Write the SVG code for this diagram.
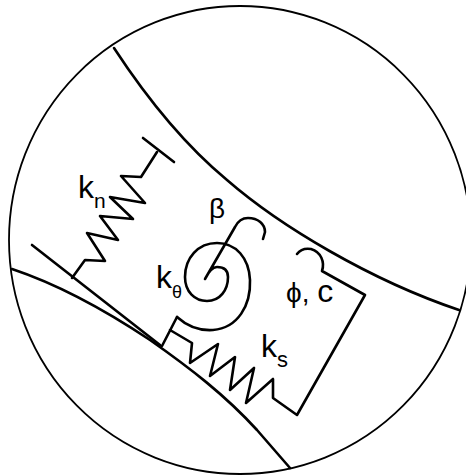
<svg xmlns="http://www.w3.org/2000/svg" width="466" height="476" viewBox="0 0 466 476">
<style>
.t{fill:none;stroke:#000;stroke-width:1.8;stroke-linecap:round;stroke-linejoin:round}
.h{fill:none;stroke:#000;stroke-width:2.6;stroke-linecap:round;stroke-linejoin:round}
text{font-family:"Liberation Sans",Arial,sans-serif;fill:#000}
</style>
<rect width="466" height="476" fill="#fff"/>
<g id="boundary">
<ellipse class="t" cx="240" cy="240" rx="231" ry="234"/>
<path class="h" d="M114 48C150 103 186 146 227 180C280 226 370 280 459 310"/>
<path class="h" d="M12 269C60 285 105 310 150 340C190 368 225 395 257 430L290 468"/>
</g>
<g id="connectors">
<path class="h" d="M32 245L160 345"/>
<path class="h" d="M143 138L174 162"/>
<path class="h" d="M157 152L141 177L121 176L145 203L110 197L133 219L100 216L118 240L87 233L105 261L85 260L72 278"/>
<path class="h" d="M162 346L177 317M170 330L192 343L190 363L218 344L210 376L235 357L230 390L254 368L246 403L273 379L273 398L297 415L365 295L322 271C325 262 321 252 311 249C305 248 300 250 297 254"/>
<path class="h" d="M177 317C187 326 198 331 213 330C238 328 251 305 250 280C249 258 236 243 217 243C198 243 185 258 185 277C185 292 195 301 207 301C220 301 228 290 228 277C228 270 224 267 217 267C212 267 208 273 205 279L235 227C238 221 242 218 248 218C258 218 265 224 265 232L263 239"/>
</g>
<g id="labels">
<text x="78" y="198" font-size="32">k<tspan dy="10" font-size="21">n</tspan></text>
<text x="209" y="218" font-size="28" font-family="Liberation Serif">β</text>
<text x="156" y="288" font-size="32">k<tspan dy="10" font-size="18">θ</tspan></text>
<text x="286" y="302" font-size="28">ϕ, <tspan font-size="32">c</tspan></text>
<text x="261" y="357" font-size="32">k<tspan dy="10" font-size="22">s</tspan></text>
</g>
</svg>
